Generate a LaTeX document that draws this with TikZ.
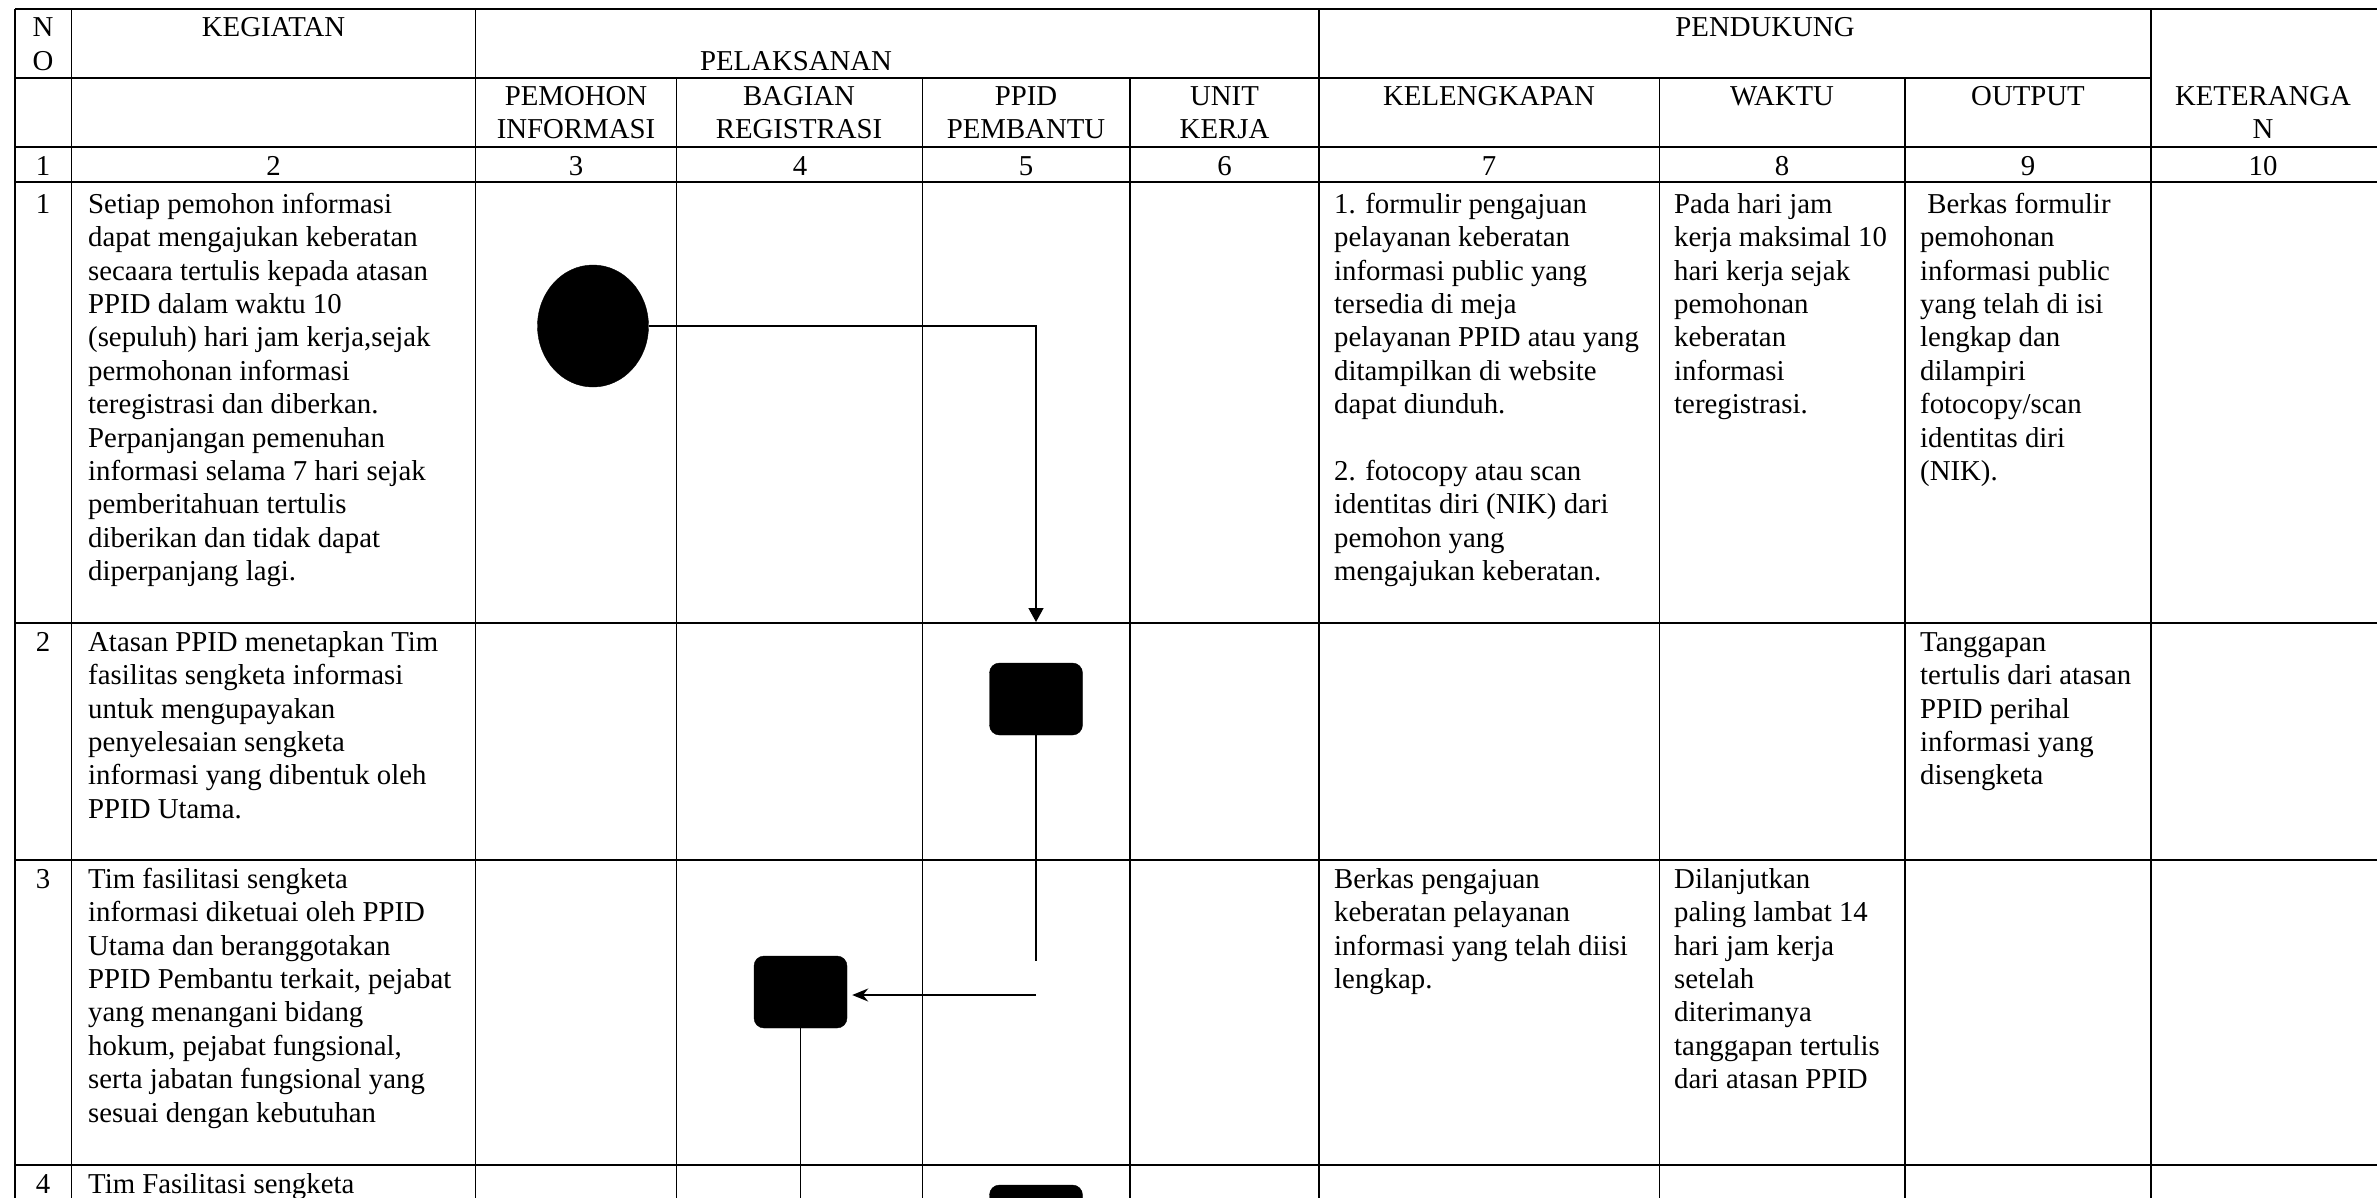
\documentclass[tikz,border=0pt]{standalone}
\usepackage{fontspec}
\setmainfont{Liberation Serif}
\usetikzlibrary{arrows.meta,shapes.geometric}
\newcommand\Lcell[4]{\node[txt] (#1) at (#2,#3-23.38) {\strut #4};}
\newcommand\Ccell[4]{\node[ctxt] (#1) at (#2,#3-23.38) {\strut #4};}
\begin{document}
\begin{tikzpicture}[x=1pt,y=-1pt,
  hline/.style={line width=2pt},
  vline/.style={line width=1.2pt},
  txt/.style={inner sep=0pt, anchor=north west, align=left, font=\fontsize{28.8}{33.4}\selectfont},
  ctxt/.style={inner sep=0pt, anchor=north, align=center, font=\fontsize{28.8}{33.4}\selectfont},
  flow/.style={line width=1.5pt},
  blackbox/.style={fill=black, draw=black, rounded corners=10pt, minimum width=93pt, minimum height=72pt, inner sep=0pt},
  startnode/.style={fill=black, draw=black, ellipse, minimum width=111pt, minimum height=122pt, inner sep=0pt}
]
\useasboundingbox (0,0) rectangle (2377,1197);
\clip (0,0) rectangle (2377,1197);
\fill[white] (0,0) rectangle (2377,1197);

% ---- horizontal rules
\draw[hline] (15,9) -- (2400,9);
\draw[hline] (15,77.7) -- (2151,77.7);
\draw[hline] (15,146.7) -- (2400,146.7);
\draw[hline] (15,182.3) -- (2400,182.3);
\draw[hline] (15,622.7) -- (2400,622.7);
\draw[hline] (15,860) -- (2400,860);
\draw[hline] (15,1164.5) -- (2400,1164.5);

% ---- vertical rules
\foreach \x in {15,71.4,475.6,1319,2151}
  \draw[vline] (\x,9) -- (\x,1200);
\foreach \x in {676.8,922.7,1130,1659.5,1905}
  \draw[vline] (\x,77.7) -- (\x,1200);

% ---- header
\Ccell{hno}{43}{36.5}{N\\O}
\Ccell{hkeg}{273.5}{36.5}{KEGIATAN}
\Ccell{hpel}{796}{69.9}{PELAKSANAN}
\Ccell{hpen}{1765}{36.5}{PENDUKUNG}
\Ccell{hpem}{576}{105}{PEMOHON\\INFORMASI}
\Ccell{hbag}{799}{105}{BAGIAN\\REGISTRASI}
\Ccell{hppid}{1026}{105}{PPID\\PEMBANTU}
\Ccell{hunit}{1224.5}{105}{UNIT\\KERJA}
\Ccell{hkel}{1489}{105}{KELENGKAPAN}
\Ccell{hwak}{1782}{105}{WAKTU}
\Ccell{hout}{2028}{105}{OUTPUT}
\Ccell{hket}{2263}{105}{KETERANGA\\N}

% ---- column numbers
\Ccell{n1}{43}{175}{1}
\Ccell{n2}{273.5}{175}{2}
\Ccell{n3}{576}{175}{3}
\Ccell{n4}{800}{175}{4}
\Ccell{n5}{1026}{175}{5}
\Ccell{n6}{1224.5}{175}{6}
\Ccell{n7}{1489}{175}{7}
\Ccell{n8}{1782}{175}{8}
\Ccell{n9}{2028}{175}{9}
\Ccell{n10}{2263}{175}{10}

% ---- row 1
\Ccell{r1no}{43}{213}{1}
\Lcell{r1keg}{88}{213}{Setiap pemohon informasi\\dapat mengajukan keberatan\\secaara tertulis kepada atasan\\PPID dalam waktu 10\\(sepuluh) hari jam kerja,sejak\\permohonan informasi\\teregistrasi dan diberkan.\\Perpanjangan pemenuhan\\informasi selama 7 hari sejak\\pemberitahuan tertulis\\diberikan dan tidak dapat\\diperpanjang lagi.}
\Lcell{r1kel}{1334}{213}{1. formulir pengajuan\\pelayanan keberatan\\informasi public yang\\tersedia di meja\\pelayanan PPID atau yang\\ditampilkan di website\\dapat diunduh.\\[33.4pt]2. fotocopy atau scan\\identitas diri (NIK) dari\\pemohon yang\\mengajukan keberatan.}
\Lcell{r1wak}{1674}{213}{Pada hari jam\\kerja maksimal 10\\hari kerja sejak\\pemohonan\\keberatan\\informasi\\teregistrasi.}
\Lcell{r1out}{1920}{213}{\ Berkas formulir\\pemohonan\\informasi public\\yang telah di isi\\lengkap dan\\dilampiri\\fotocopy/scan\\identitas diri\\(NIK).}

% ---- row 2
\Ccell{r2no}{43}{651}{2}
\Lcell{r2keg}{88}{651}{Atasan PPID menetapkan Tim\\fasilitas sengketa informasi\\untuk mengupayakan\\penyelesaian sengketa\\informasi yang dibentuk oleh\\PPID Utama.}
\Lcell{r2out}{1920}{651}{Tanggapan\\tertulis dari atasan\\PPID perihal\\informasi yang\\disengketa}

% ---- row 3
\Ccell{r3no}{43}{888}{3}
\Lcell{r3keg}{88}{888}{Tim fasilitasi sengketa\\informasi diketuai oleh PPID\\Utama dan beranggotakan\\PPID Pembantu terkait, pejabat\\yang menangani bidang\\hokum, pejabat fungsional,\\serta jabatan fungsional yang\\sesuai dengan kebutuhan}
\Lcell{r3kel}{1334}{888}{Berkas pengajuan\\keberatan pelayanan\\informasi yang telah diisi\\lengkap.}
\Lcell{r3wak}{1674}{888}{Dilanjutkan\\paling lambat 14\\hari jam kerja\\setelah\\diterimanya\\tanggapan tertulis\\dari atasan PPID}

% ---- row 4
\Ccell{r4no}{43}{1193}{4}
\Lcell{r4keg}{88}{1193}{Tim Fasilitasi sengketa}

% ---- flow symbols
\node[startnode] (start) at (593,326) {};
\node[blackbox] (s2) at (1036,699) {};
\node[blackbox] (s3) at (800.5,992) {};
\node[blackbox] (s4) at (1036,1221) {};
\coordinate (c1) at (1036,326);
\coordinate (c2) at (1036,622);
\coordinate (c3) at (1036,961);
\coordinate (c4) at (1036,995);
\coordinate (c5) at (800.5,1200);

\draw[flow,-{Triangle[length=14pt,width=15pt]}] (start.east) -- (c1) -- (c2);
\draw[flow] (s2.south) -- (c3);
\draw[flow,-{Stealth[length=16pt,width=13pt]}] (c4) -- ([xshift=5pt]s3.east |- c4);
\draw[flow] (s3.south) -- (c5);
\end{tikzpicture}
\end{document}
